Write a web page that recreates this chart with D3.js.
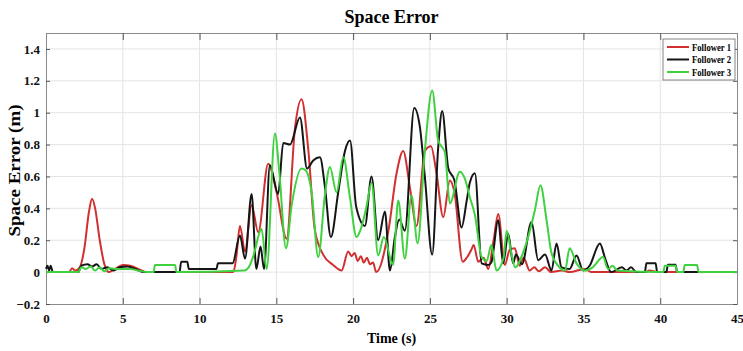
<!DOCTYPE html>
<html>
<head>
<meta charset="utf-8">
<script src="https://cdn.jsdelivr.net/npm/d3@7"></script>
<style>
  body { margin: 0; background: #fff; }
  svg text { font-family: "Liberation Serif", "Times New Roman", serif; font-weight: bold; }
</style>
</head>
<body>
<div id="chart"></div>
<script>
// series: time (s) and space error (m)
const follower1Time = [0, 1.5, 1.7, 1.9, 2.2, 2.5, 2.8, 3.0, 3.2, 3.5, 3.8, 4.1, 4.5, 5.0, 5.5, 6.0, 6.5, 12.2, 12.4, 12.63, 12.96, 13.39, 13.82, 14.47, 15.02, 15.67, 16.21, 16.64, 17.08, 17.5, 18.05, 18.7, 19.25, 19.68, 19.9, 20.1, 20.3, 20.5, 20.7, 20.9, 21.1, 21.3, 21.5, 22.3, 22.83, 23.26, 23.7, 24.13, 24.67, 25.07, 25.43, 25.87, 26.3, 26.6, 27.14, 27.4, 27.7, 27.85, 28.15, 28.5, 28.8, 29.15, 29.45, 29.88, 30.2, 30.53, 30.85, 31.1, 31.5, 31.8, 32.1, 32.5, 32.9, 33.6, 34.1, 35.1, 35.5, 39, 39.3, 39.8, 45];
const follower1Value = [0, 0, 0.025, 0.01, 0.03, 0.15, 0.38, 0.46, 0.40, 0.2, 0.05, 0, 0.02, 0.045, 0.04, 0.02, 0, 0, 0.1, 0.29, 0.13, 0.42, 0.25, 0.68, 0.50, 0.21, 0.90, 1.085, 0.77, 0.27, 0.11, 0.045, 0.01, 0.13, 0.10, 0.12, 0.07, 0.10, 0.06, 0.09, 0.05, 0.06, 0, 0.26, 0.62, 0.76, 0.53, 0.29, 0.76, 0.79, 0.62, 0.345, 0.575, 0.5, 0.065, 0.09, 0.14, 0.17, 0.065, 0.09, 0.02, 0.2, 0.365, 0.045, 0.14, 0.15, 0.04, 0.09, 0.01, 0.03, 0.005, 0.03, 0, 0.01, 0, 0.02, 0, 0, 0.01, 0, 0];

const follower2Time = [0, 0.1, 0.2, 0.3, 0.45, 2.1, 2.3, 2.7, 3.0, 3.3, 3.6, 4.0, 4.4, 4.8, 5.3, 5.8, 6.4, 8.7, 8.8, 9.2, 9.3, 11.1, 11.2, 12.15, 12.63, 12.96, 13.39, 13.7, 13.97, 14.2, 14.58, 15.12, 15.45, 15.89, 16.54, 17.0, 17.4, 17.84, 18.16, 18.55, 19.03, 19.47, 19.8, 20.2, 20.77, 21.2, 21.63, 22.07, 22.4, 22.72, 23.0, 23.37, 23.98, 24.35, 24.67, 25.15, 25.54, 25.8, 26.2, 26.6, 27.06, 27.4, 27.6, 27.93, 28.37, 28.8, 29.0, 29.45, 29.77, 30.1, 30.42, 30.6, 31.0, 31.62, 32.05, 32.5, 32.92, 33.25, 33.57, 34.1, 34.55, 34.98, 35.4, 36.07, 36.4, 36.8, 37.5, 37.8, 38.1, 38.45, 39.0, 39.1, 39.7, 39.8, 40.4, 40.5, 41.0, 41.1, 45];
const follower2Value = [0.02, 0.04, 0.01, 0.04, 0, 0, 0.04, 0.05, 0.035, 0.05, 0.02, 0.03, 0.01, 0.03, 0.035, 0.02, 0, 0, 0.065, 0.065, 0.02, 0.02, 0.055, 0.055, 0.23, 0.085, 0.49, 0.02, 0.16, 0.02, 0.67, 0.49, 0.81, 0.80, 0.97, 0.65, 0.70, 0.72, 0.54, 0.22, 0.50, 0.76, 0.825, 0.41, 0.29, 0.6, 0.2, 0.38, 0.01, 0.22, 0.33, 0.26, 1.03, 0.91, 0.6, 0.11, 0.78, 1.01, 0.65, 0.575, 0.28, 0.45, 0.56, 0.62, 0.055, 0.045, 0.06, 0.325, 0.055, 0.24, 0.055, 0.11, 0.05, 0.315, 0.075, 0.11, 0.01, 0.18, 0.03, 0.02, 0.105, 0.01, 0.04, 0.18, 0.09, 0, 0.03, 0.01, 0.03, 0, 0, 0.055, 0.055, 0, 0, 0.047, 0.047, 0, 0];

const follower3Time = [0, 2.1, 2.3, 2.6, 2.9, 3.2, 3.5, 3.8, 4.1, 4.5, 5.5, 6.0, 6.6, 7.0, 7.1, 8.4, 8.5, 12.9, 13.2, 13.5, 14.04, 14.37, 14.91, 15.19, 15.63, 16.0, 16.64, 16.9, 17.3, 17.73, 18.16, 18.49, 18.92, 19.36, 19.79, 20.22, 20.5, 20.87, 21.2, 21.63, 22.0, 22.6, 22.94, 23.37, 23.8, 24.2, 24.67, 25.15, 25.54, 25.98, 26.3, 26.95, 27.3, 27.6, 27.93, 28.37, 28.7, 29.0, 29.34, 29.8, 30.0, 30.3, 30.55, 31.08, 31.4, 31.84, 32.2, 32.6, 32.92, 33.4, 33.8, 34.1, 34.55, 35.1, 35.6, 36.28, 36.6, 36.9, 37.2, 40.2, 40.3, 41.0, 41.1, 41.5, 41.6, 42.4, 42.5, 45];
const follower3Value = [0, 0, 0.03, 0.02, 0.035, 0.01, 0.03, 0.005, 0.025, 0.02, 0.02, 0.01, 0, 0, 0.045, 0.045, 0, 0.01, 0.03, 0.1, 0.27, 0.02, 0.87, 0.63, 0.15, 0.42, 0.65, 0.64, 0.50, 0.095, 0.48, 0.66, 0.50, 0.72, 0.47, 0.22, 0.27, 0.41, 0.56, 0.105, 0.22, 0.045, 0.45, 0.085, 0.48, 0.18, 0.76, 1.14, 0.825, 0.75, 0.43, 0.63, 0.58, 0.47, 0.36, 0.095, 0.07, 0.17, 0.01, 0.09, 0.26, 0.12, 0.03, 0.125, 0.22, 0.39, 0.545, 0.325, 0.12, 0.035, 0.01, 0.15, 0.055, 0.01, 0.03, 0.095, 0.02, 0.04, 0.01, 0, 0.04, 0.04, 0, 0, 0.045, 0.045, 0, 0];

const xTicks = [0, 5, 10, 15, 20, 25, 30, 35, 40, 45];
const yTicks = [-0.2, 0, 0.2, 0.4, 0.6, 0.8, 1, 1.2, 1.4];
const seriesNames = ['Follower 1', 'Follower 2', 'Follower 3'];
const seriesColors = ['#d03030', '#151515', '#3fd13f'];

const width = 743, height = 351;
const margin = { top: 33, right: 6, bottom: 47, left: 46 };
const innerW = width - margin.left - margin.right;
const innerH = height - margin.top - margin.bottom;

const svg = d3.select('#chart').append('svg')
  .attr('width', width)
  .attr('height', height);

const x = d3.scaleLinear().domain([0, 45]).range([0, innerW]);
const y = d3.scaleLinear().domain([-0.2, 1.5]).range([innerH, 0]);

const g = svg.append('g').attr('transform', `translate(${margin.left},${margin.top})`);

// grid
g.append('g').selectAll('line').data(xTicks.slice(1, -1)).enter().append('line')
  .attr('x1', d => x(d)).attr('x2', d => x(d))
  .attr('y1', 0).attr('y2', innerH)
  .attr('stroke', '#e4e4e4');
g.append('g').selectAll('line').data(yTicks.slice(1)).enter().append('line')
  .attr('x1', 0).attr('x2', innerW)
  .attr('y1', d => y(d)).attr('y2', d => y(d))
  .attr('stroke', '#e4e4e4');

// axes
const xAxis = g.append('g').attr('transform', `translate(0,${innerH})`)
  .call(d3.axisBottom(x).tickValues(xTicks).tickSize(-6).tickPadding(10).tickFormat(d3.format('d')));
const xTop = g.append('g')
  .call(d3.axisTop(x).tickValues(xTicks).tickSize(-7).tickFormat(''));
const yAxis = g.append('g')
  .call(d3.axisLeft(y).tickValues(yTicks).tickSize(-4).tickPadding(6).tickFormat(d => d3.format('')(+d.toFixed(1))));
const yRight = g.append('g').attr('transform', `translate(${innerW},0)`)
  .call(d3.axisRight(y).tickValues(yTicks).tickSize(-4).tickFormat(''));

[xAxis, xTop, yAxis, yRight].forEach(a => {
  a.select('.domain').attr('stroke', '#8a8a8a');
  a.selectAll('.tick line').attr('stroke', '#555');
  a.selectAll('text').attr('font-size', 13).attr('fill', '#111')
    .style('font-family', '"Liberation Serif", serif').style('font-weight', 'bold');
});

// lines
const line = d3.line()
  .x(d => x(d[0]))
  .y(d => y(d[1]))
  .curve(d3.curveMonotoneX);

const series = [
  d3.zip(follower1Time, follower1Value),
  d3.zip(follower2Time, follower2Value),
  d3.zip(follower3Time, follower3Value)
];

g.append('g').selectAll('path').data(series).enter().append('path')
  .attr('d', line)
  .attr('fill', 'none')
  .attr('stroke', (d, i) => seriesColors[i])
  .attr('stroke-width', 2)
  .attr('stroke-linejoin', 'round');

// titles
svg.append('text')
  .attr('x', margin.left + innerW / 2).attr('y', 23)
  .attr('text-anchor', 'middle').attr('font-size', 18)
  .text('Space Error');
svg.append('text')
  .attr('x', margin.left + innerW / 2).attr('y', 343)
  .attr('text-anchor', 'middle').attr('font-size', 14)
  .text('Time (s)');
svg.append('text')
  .attr('transform', `translate(20,${margin.top + innerH / 2 + 2}) rotate(-90)`)
  .attr('text-anchor', 'middle').attr('font-size', 16)
  .attr('textLength', 132).attr('lengthAdjust', 'spacingAndGlyphs')
  .text('Space Error (m)');

// legend
const lg = svg.append('g').attr('transform', 'translate(663,39)');
lg.append('rect')
  .attr('width', 72).attr('height', 41)
  .attr('fill', '#fff').attr('stroke', '#666').attr('stroke-width', 0.8);
seriesNames.forEach((name, i) => {
  lg.append('line')
    .attr('x1', 4).attr('x2', 26)
    .attr('y1', 8 + i * 12.5).attr('y2', 8 + i * 12.5)
    .attr('stroke', seriesColors[i]).attr('stroke-width', 2);
  lg.append('text')
    .attr('x', 29).attr('y', 11.5 + i * 12.5)
    .attr('font-size', 10)
    .attr('textLength', 39).attr('lengthAdjust', 'spacingAndGlyphs')
    .text(name);
});
</script>
</body>
</html>
